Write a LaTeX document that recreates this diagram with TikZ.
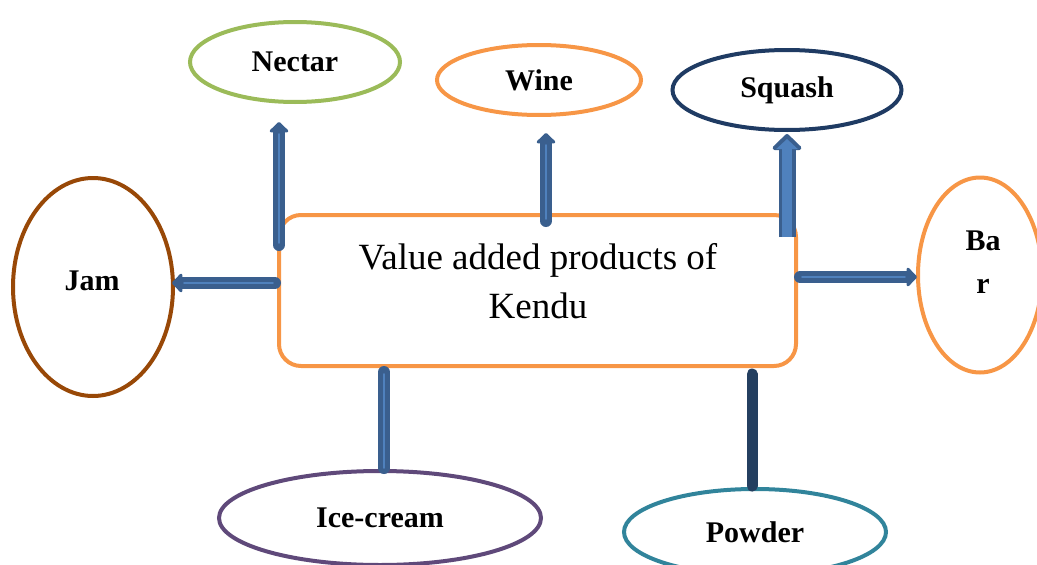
\documentclass[tikz,border=0pt]{standalone}
\usepackage{fontspec}
\setmainfont{Liberation Serif}
\usetikzlibrary{shapes.geometric,arrows.meta}
\definecolor{orangeC}{HTML}{F79646}
\definecolor{greenC}{HTML}{9BBB59}
\definecolor{navyC}{HTML}{1F3B63}
\definecolor{brownC}{HTML}{984807}
\definecolor{purpleC}{HTML}{5F497A}
\definecolor{tealC}{HTML}{31849B}
\definecolor{arrdark}{HTML}{3A5F8E}
\definecolor{arrlight}{HTML}{4F81BD}
\definecolor{linedark}{HTML}{243F60}
\begin{document}
\begin{tikzpicture}[x=1pt,y=-1pt,
  ell/.style={ellipse, draw, line width=4pt, inner sep=0pt, outer sep=0pt,
    font=\fontsize{30}{43}\selectfont\bfseries, align=center},
  lbl/.style={font=\fontsize{30}{43}\selectfont\bfseries, align=center, inner sep=0pt},
  arr/.style={draw=arrdark, line width=12pt, line cap=round,
    -{Triangle[width=22pt,length=11pt,round]},
    postaction={draw=arrlight, line width=1.8pt, -, shorten >=12pt, shorten <=2pt}},
  bigarr/.style={draw=arrdark, line width=17pt,
    -{Triangle[width=34pt,length=17pt,round]},
    postaction={draw=arrlight, line width=10pt, -{Triangle[width=21pt,length=10pt]}, shorten >=5pt, shorten <=0pt}},
  stem/.style={draw=arrdark, line width=12pt, line cap=round,
    postaction={draw=arrlight, line width=1.8pt, shorten <=2pt}},
  darkstem/.style={draw=linedark, line width=11pt, line cap=round}]
\useasboundingbox (0,0) rectangle (1037,565);
% main box
\node[draw=orangeC, line width=4pt, rounded corners=22pt, minimum width=517pt,
  minimum height=151pt, inner sep=0pt, outer sep=0pt] (box) at (537.5,290.5) {};
\node[font=\fontsize{37}{49}\selectfont, align=center] (boxtext) at (538,281)
  {Value added products of\\Kendu};
% ellipses
\node[ell, draw=greenC, minimum width=210pt, minimum height=80pt] (nectar) at (295,62) {Nectar};
\node[ell, draw=orangeC, minimum width=204pt, minimum height=70pt] (wine) at (539,80) {Wine};
\node[ell, draw=navyC, minimum width=229pt, minimum height=80pt] (squash) at (787,90) {Squash};
\node[ell, draw=orangeC, minimum width=124pt, minimum height=195pt] (bar) at (980,275) {};
\node[lbl] (bartext) at (983,262) {Ba\\r};
\node[ell, draw=brownC, minimum width=160pt, minimum height=218pt] (jam) at (93,287) {};
\node[lbl] (jamtext) at (92,281) {Jam};
\node[ell, draw=purpleC, minimum width=322pt, minimum height=94pt] (icecream) at (380,518) {Ice-cream};
\node[ell, draw=tealC, minimum width=262pt, minimum height=86pt] (powder) at (755,532) {Powder};
% connectors
\draw[arr] ([yshift=-30pt]box.north west) -- ([xshift=-16pt,yshift=-20pt]nectar.south);
\draw[arr] ([xshift=8.5pt,yshift=-6pt]box.north) -- ([xshift=7pt,yshift=-18pt]wine.south);
\draw[bigarr] ([xshift=-9pt,yshift=-22pt]box.north east) -- ([yshift=-4pt]squash.south);
\draw[arr] ([xshift=4pt,yshift=13.5pt]box.east) -- ([xshift=-1pt,yshift=-2pt]bar.west);
\draw[arr] ([xshift=-4pt,yshift=7.5pt]box.west) -- ([xshift=-1pt,yshift=4pt]jam.east);
\draw[stem] ([xshift=-153.5pt,yshift=-6pt]box.south) -- ([xshift=4pt,yshift=3pt]icecream.north);
\draw[darkstem] ([xshift=214.5pt,yshift=-8pt]box.south) -- ([xshift=-3pt,yshift=3pt]powder.north);
\end{tikzpicture}
\end{document}
